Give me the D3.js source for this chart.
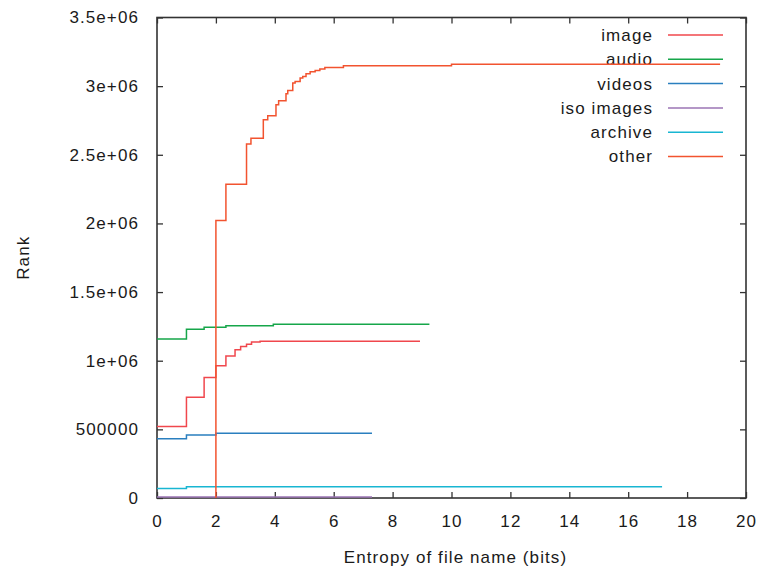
<!DOCTYPE html>
<html>
<head>
<meta charset="utf-8">
<script src="https://cdnjs.cloudflare.com/ajax/libs/d3/7.8.5/d3.min.js"></script>
<style>
  html, body { margin: 0; padding: 0; background: #fff; }
  svg text { font-family: "Liberation Sans", Arial, sans-serif; fill: #1a1a1a; }
</style>
</head>
<body>
<svg id="chart" width="760" height="574"></svg>
<script>
// Cumulative rank by file-name entropy, one step series per file type.
// Each entry is [entropy (bits), rank]; the curve steps at each entropy value.
const imageSteps = [[0,520000],[1,734000],[1.6,877000],[2,964000],[2.34,1035000],[2.65,1079000],[2.84,1103000],[3.04,1120000],[3.21,1136000],[3.5,1142000],[8.93,1142000]];
const audioSteps = [[0,1159000],[1,1229000],[1.6,1244000],[2.34,1254000],[3.95,1266000],[9.25,1266000]];
const videosSteps = [[0,432000],[1,459000],[2,471000],[7.3,471000]];
const isoSteps = [[0,7000],[1,8000],[7.3,8000]];
const archiveSteps = [[0,70000],[1,82000],[17.15,82000]];
const otherSteps = [[2,0],[2,2021000],[2.34,2286000],[3.04,2578000],[3.19,2621000],[3.61,2755000],[3.76,2784000],
  [4.04,2864000],[4.13,2893000],[4.38,2945000],[4.44,2968000],[4.61,3022000],[4.69,3034000],[4.86,3059000],
  [4.95,3071000],[5.06,3090000],[5.2,3105000],[5.37,3114000],[5.53,3125000],[5.7,3136000],[6.33,3149000],
  [10,3160000],[19.12,3160000]];

const seriesNames = ["image", "audio", "videos", "iso images", "archive", "other"];
const seriesData = [imageSteps, audioSteps, videosSteps, isoSteps, archiveSteps, otherSteps];
const seriesColors = ["#f0474d", "#16a64a", "#2a7fbf", "#9b74b4", "#19b6d2", "#f2532f"];

const xTicks = [0, 2, 4, 6, 8, 10, 12, 14, 16, 18, 20];
const yTicks = [0, 500000, 1000000, 1500000, 2000000, 2500000, 3000000, 3500000];
const yTickLabels = ["0", "500000", "1e+06", "1.5e+06", "2e+06", "2.5e+06", "3e+06", "3.5e+06"];

const margin = { left: 157, right: 14, top: 17.5, bottom: 76 };
const W = 760, H = 574;
const svg = d3.select("#chart");

const x = d3.scaleLinear().domain([0, 20]).range([margin.left, W - margin.right]);
const y = d3.scaleLinear().domain([0, 3500000]).range([H - margin.bottom, margin.top]);

const fontSize = 17, spacing = "1.1px";
const tickLen = 6;

// Axes: bottom/left with labels, top/right mirrored ticks only (all pointing inward)
const gx = svg.append("g").attr("transform", `translate(0,${y(0)})`)
  .call(d3.axisBottom(x).tickValues(xTicks).tickSizeInner(-tickLen).tickSizeOuter(0).tickPadding(17));
const gxTop = svg.append("g").attr("transform", `translate(0,${y(3500000)})`)
  .call(d3.axisTop(x).tickValues(xTicks).tickSizeInner(-tickLen).tickSizeOuter(0).tickFormat(""));
const gy = svg.append("g").attr("transform", `translate(${x(0)},0)`)
  .call(d3.axisLeft(y).tickValues(yTicks).tickSizeInner(-tickLen).tickSizeOuter(0).tickPadding(18)
    .tickFormat((d, i) => yTickLabels[i]));
const gyRight = svg.append("g").attr("transform", `translate(${x(20)},0)`)
  .call(d3.axisRight(y).tickValues(yTicks).tickSizeInner(-tickLen).tickSizeOuter(0).tickFormat(""));

[gx, gxTop, gy, gyRight].forEach(g => {
  g.select(".domain").remove();
  g.selectAll(".tick line").attr("stroke", "#333").attr("stroke-width", 1.3);
  g.selectAll(".tick text").attr("font-size", fontSize).attr("letter-spacing", spacing)
    .style("font-family", "'Liberation Sans', Arial, sans-serif").attr("fill", "#1a1a1a");
});

// Frame around the plot area
svg.append("rect")
  .attr("x", x(0)).attr("y", y(3500000))
  .attr("width", x(20) - x(0)).attr("height", y(0) - y(3500000))
  .attr("fill", "none").attr("stroke", "#333").attr("stroke-width", 1.6);

// Axis titles
svg.append("text")
  .attr("x", (x(0) + x(20)) / 2 + 4).attr("y", 563)
  .attr("text-anchor", "middle").attr("font-size", fontSize).attr("letter-spacing", spacing)
  .text("Entropy of file name (bits)");
svg.append("text")
  .attr("transform", `translate(29,${(y(0) + y(3500000)) / 2}) rotate(-90)`)
  .attr("text-anchor", "middle").attr("font-size", fontSize).attr("letter-spacing", spacing)
  .text("Rank");

// Legend
const legend = svg.append("g");
seriesNames.forEach((name, i) => {
  const ly = 35 + i * 24.3;
  legend.append("text").attr("x", 653).attr("y", ly).attr("dy", "0.35em")
    .attr("text-anchor", "end").attr("font-size", fontSize).attr("letter-spacing", spacing)
    .text(name);
  legend.append("line").attr("x1", 668).attr("x2", 723).attr("y1", ly).attr("y2", ly)
    .attr("stroke", seriesColors[i]).attr("stroke-width", 1.5);
});

// Step lines
const line = d3.line().x(d => x(d[0])).y(d => y(d[1])).curve(d3.curveStepAfter);
seriesData.forEach((data, i) => {
  svg.append("path").datum(data)
    .attr("d", line)
    .attr("fill", "none")
    .attr("stroke", seriesColors[i])
    .attr("stroke-width", 1.5);
});
</script>
</body>
</html>
